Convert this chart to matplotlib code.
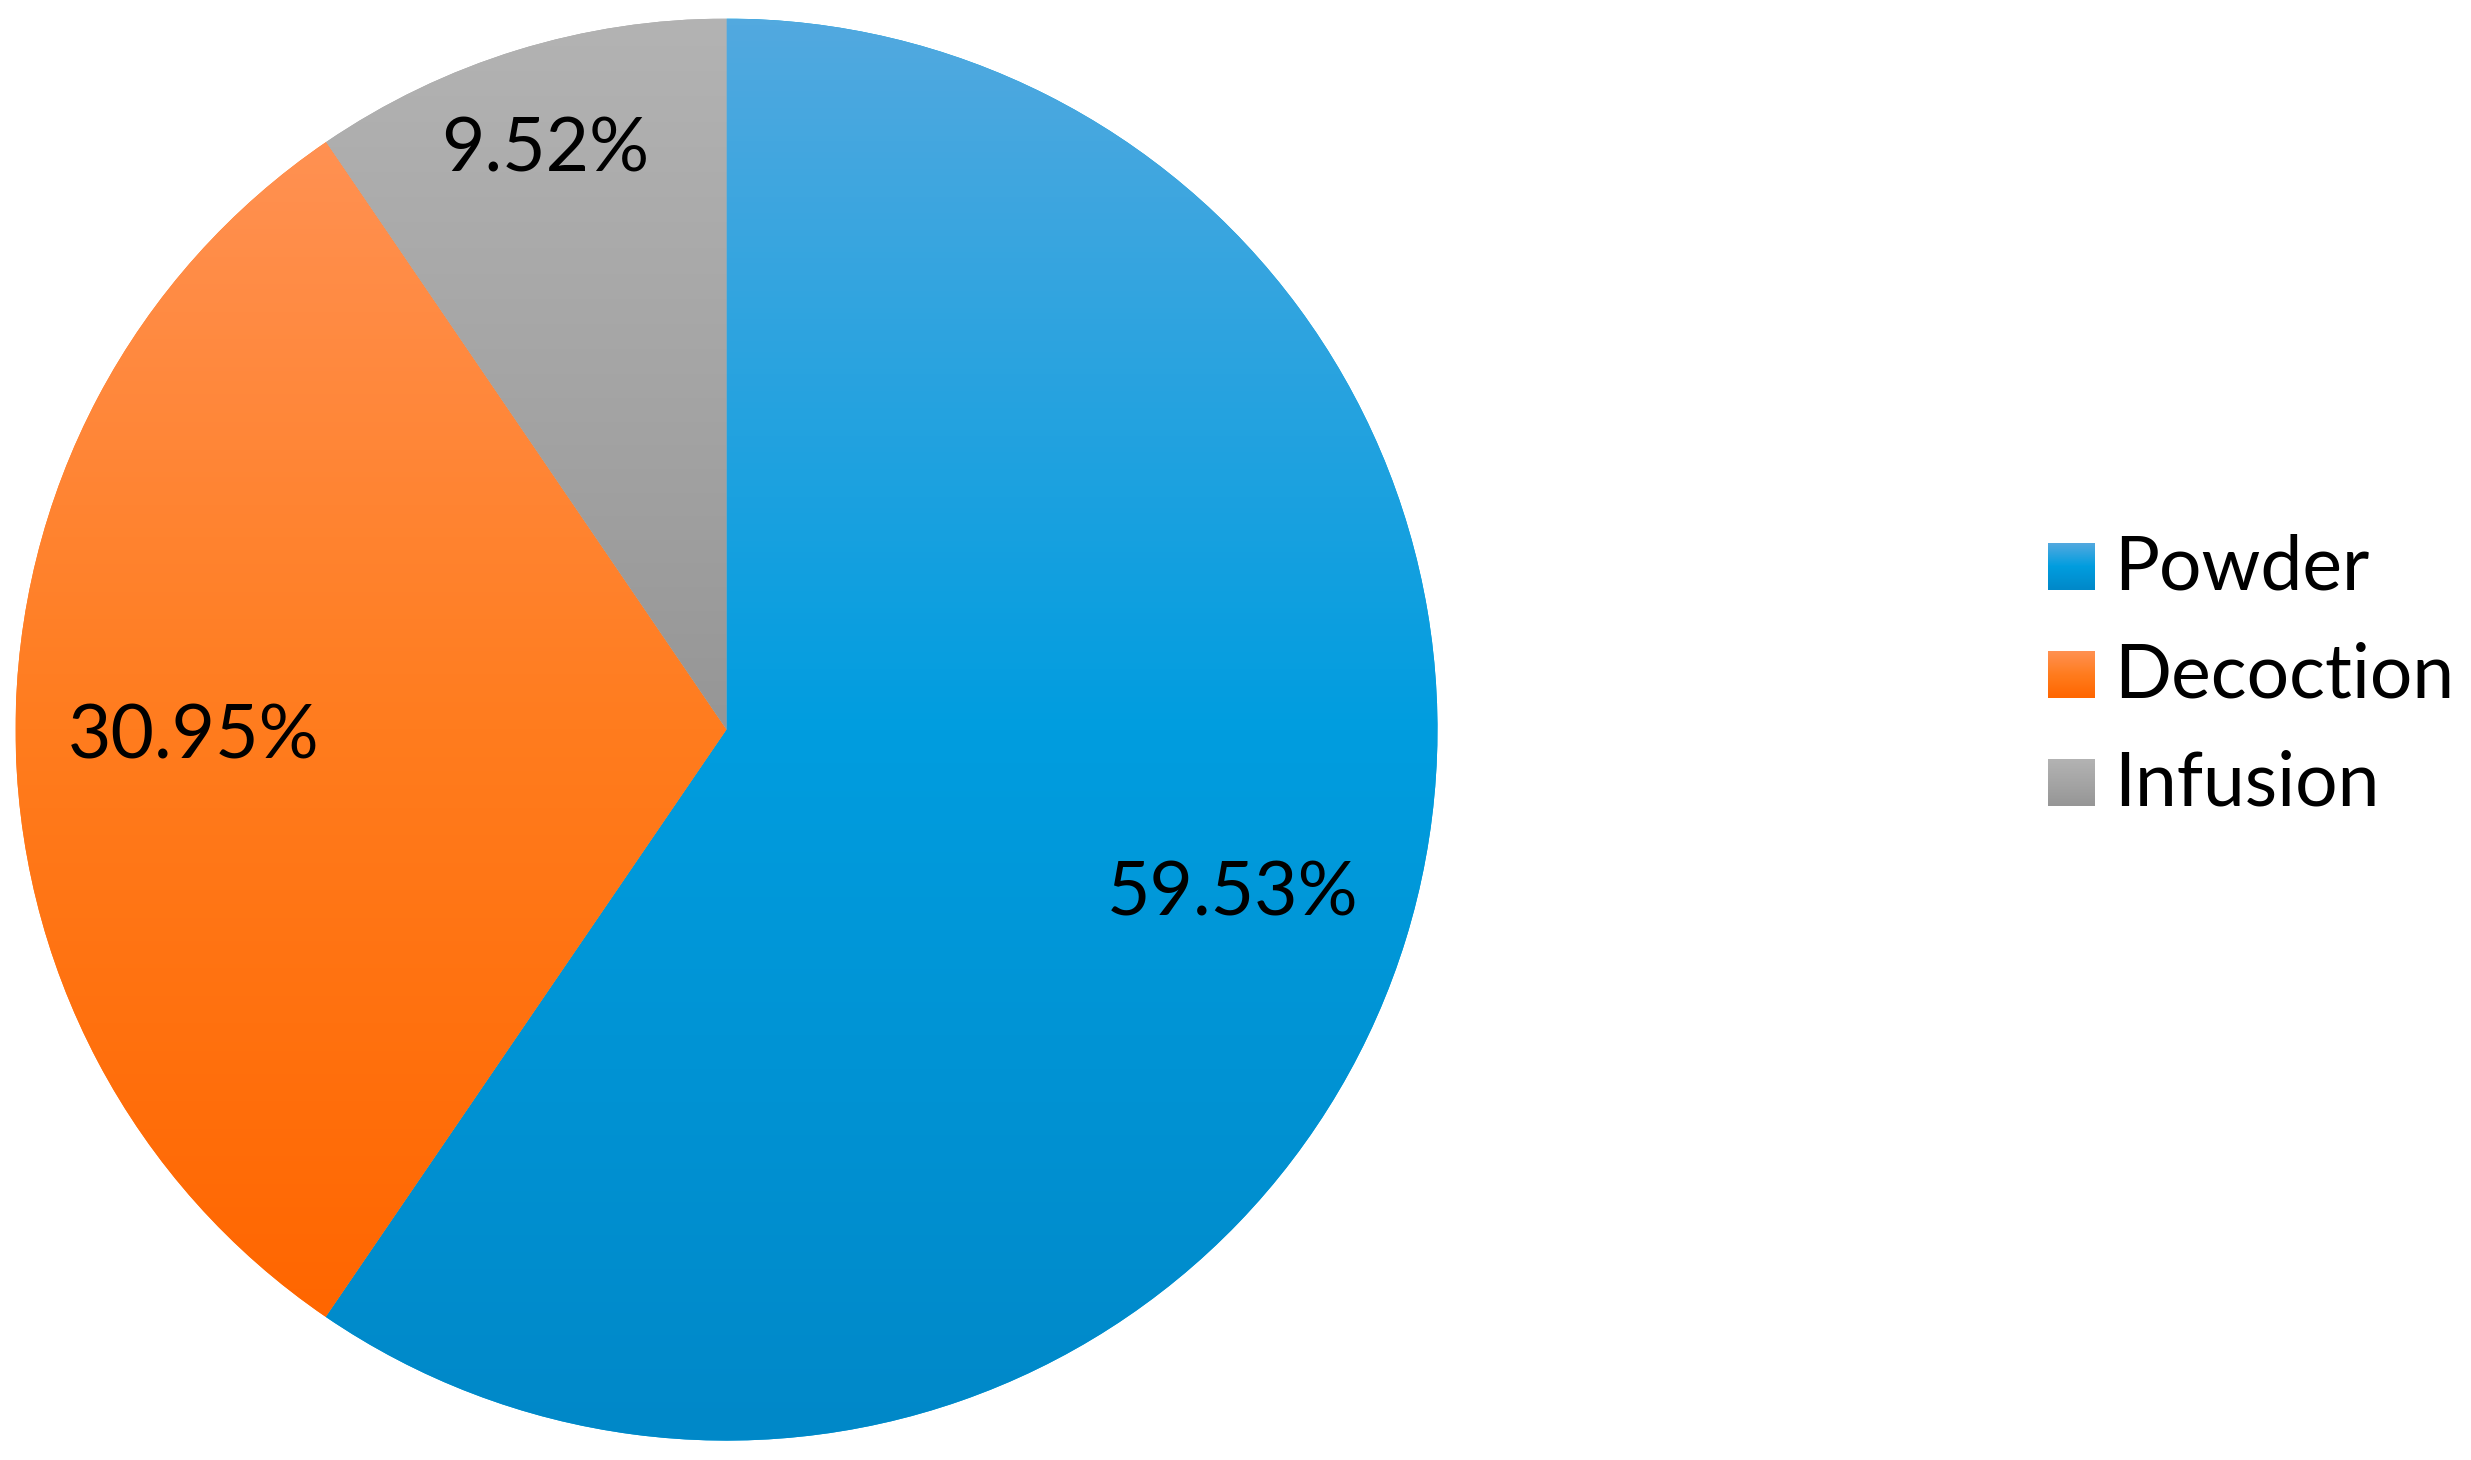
import numpy as np
import matplotlib.pyplot as plt
from matplotlib.colors import LinearSegmentedColormap

# data
labels = ['Powder', 'Decoction', 'Infusion']
shares = [59.53, 30.95, 9.52]

# gradient stops per slice (top, middle, bottom)
gradients = [
    ['#52A9DF', '#009DDF', '#0088C8'],
    ['#FF9152', '#FF7C1E', '#FF6600'],
    ['#B3B3B3', '#A5A5A5', '#969696'],
]
label_dist = [0.745, 0.75, 0.865]

W, H = 2471, 1460
fig = plt.figure(figsize=(W / 100, H / 100), dpi=100)
plt.rcParams['font.family'] = ['Lato', 'DejaVu Sans']

# pie axes: centre ~ (726, 730) px, radius ~ 711 px
cx, cy, r = 726.5, 729.6, 711
ax = fig.add_axes([(cx - r) / W, (H - cy - r) / H, 2 * r / W, 2 * r / H])
wedges, _ = ax.pie(shares, startangle=90, counterclock=False, radius=1,
                   colors=[g[1] for g in gradients])

for w, stops, share, d in zip(wedges, gradients, shares, label_dist):
    ext = w.get_path().get_extents()
    cmap = LinearSegmentedColormap.from_list('g', stops)
    img = ax.imshow(np.linspace(0, 1, 256).reshape(-1, 1), cmap=cmap,
                    extent=(ext.x0, ext.x1, ext.y0, ext.y1), origin='upper',
                    aspect='auto', zorder=2)
    img.set_clip_path(w)
    ang = np.deg2rad((w.theta1 + w.theta2) / 2)
    # small downward nudge so digits sit where the original ones do
    ax.text(d * np.cos(ang), d * np.sin(ang) - 0.011, f'{share:.2f}%',
            fontsize=54, ha='center', va='center', color='black', zorder=3)

ax.set_xlim(-1, 1)
ax.set_ylim(-1, 1)
ax.set_aspect('equal')
ax.axis('off')

# legend drawn by hand with gradient squares
sq = 47
lx = 2048
row_bottom = [590, 698, 806]
for lab, stops, yb in zip(labels, gradients, row_bottom):
    lax = fig.add_axes([lx / W, (H - yb) / H, sq / W, sq / H])
    cmap = LinearSegmentedColormap.from_list('g', stops)
    lax.imshow(np.linspace(0, 1, 64).reshape(-1, 1), cmap=cmap, aspect='auto')
    lax.axis('off')
    fig.text((lx + 66) / W, (H - yb) / H, lab, fontsize=54, va='baseline',
             ha='left', color='black')

fig.savefig('out.png', dpi=100)
